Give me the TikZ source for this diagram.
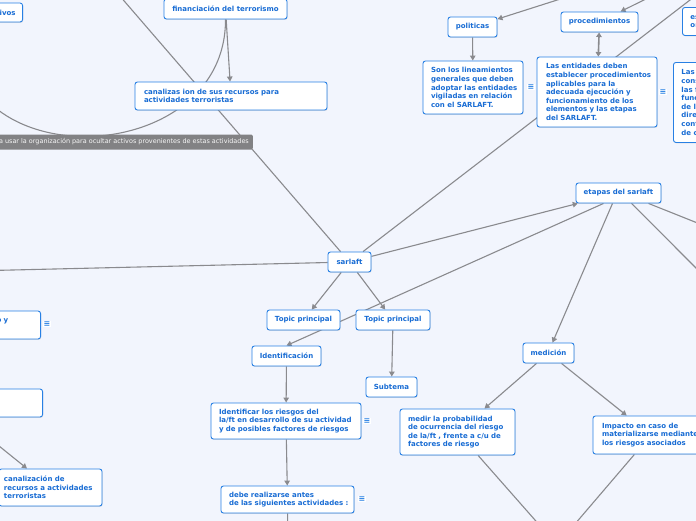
\documentclass[tikz,border=0pt]{standalone}
\usepackage{fontspec}
\setmainfont{DejaVu Sans}
\usetikzlibrary{arrows.meta,shadows}
\definecolor{bgc}{RGB}{242,245,253}
\definecolor{bblue}{RGB}{40,128,228}
\definecolor{tblue}{RGB}{24,108,212}
\definecolor{lgray}{RGB}{138,138,142}
\definecolor{labgray}{RGB}{130,130,132}
\pgfdeclarelayer{bg}
\pgfdeclarelayer{edges}
\pgfsetlayers{bg,edges,main}
\tikzset{
  box/.style={draw=bblue, fill=white, rounded corners=2.5pt, line width=0.9pt,
    text=tblue, font=\fontsize{7}{8.6}\selectfont\bfseries, inner ysep=0pt,
    drop shadow={shadow xshift=0.6pt, shadow yshift=-0.9pt, opacity=0.22}},
  one/.style={box, minimum height=20pt, align=center, inner xsep=0pt},
  multi/.style={box, align=left},
  glabel/.style={fill=labgray, text=white!94!gray, font=\fontsize{6.45}{7}\selectfont,
    rounded corners=1.5pt, minimum height=15pt, inner xsep=4pt, inner ysep=0pt},
  icon/.style={fill=white, text=bblue, font=\fontsize{8}{8}\selectfont\bfseries, inner sep=0.6pt},
  edge/.style={draw=lgray, line width=1.1pt},
  arr/.style={edge, -{Triangle[length=5pt,width=5.5pt]}},
  dbl/.style={edge, line width=1.6pt, {Triangle[length=4.5pt,width=5.5pt]}-{Triangle[length=4.5pt,width=5.5pt]}}
}
\begin{document}
\begin{tikzpicture}[x=1pt, y=-1pt]
\useasboundingbox (0,0) rectangle (696,520);
\begin{pgfonlayer}{bg}
\fill[bgc] (-5,-5) rectangle (701,525);
\end{pgfonlayer}

% nodes
\node[one, minimum width=123pt] (fin) at (225.5,9) {financiación del terrorismo};
\node[multi, text width=174pt, inner xsep=9pt, minimum height=28pt] (canal) at (231,96)
  {\mbox{canalizas ion de sus recursos para}\\\mbox{actividades terroristas}};
\node[glabel, anchor=east] (lab) at (253,142) {a usar la organización para ocultar activos provenientes de estas actividades};
\node[box, anchor=east, minimum height=19pt, text width=40pt, align=right, inner xsep=7pt] (ivos) at (23,12.5) {ivos};
\node[one, minimum width=49pt] (pol) at (472.5,27) {politicas};
\node[one, minimum width=77pt] (proc) at (599.5,22) {procedimientos};
\node[multi, text width=84pt, inner xsep=8pt, minimum height=53pt] (son) at (473,87.5)
  {\mbox{Son los lineamientos}\\\mbox{generales que deben}\\\mbox{adoptar las entidades}\\\mbox{vigiladas en relación}\\\mbox{con el SARLAFT.}};
\node[multi, text width=102pt, inner xsep=9pt, minimum height=70pt] (lasent) at (597,92)
  {\mbox{Las entidades deben}\\\mbox{establecer procedimientos}\\\mbox{aplicables para la}\\\mbox{adecuada ejecución y}\\\mbox{funcionamiento de los}\\\mbox{elementos y las etapas}\\\mbox{del SARLAFT.}};
\node[multi, anchor=north west, text width=60pt, inner xsep=8pt, minimum height=80pt] (lascons) at (673,62)
  {Las\\cons\\las f\\func\\de lo\\direc\\cont\\de c};
\node[multi, anchor=north west, text width=40pt, inner xsep=8pt, minimum height=28pt] (esor) at (682,7) {es\\or};
\node[one, minimum width=43pt] (sarlaft) at (349.5,262) {sarlaft};
\node[one, minimum width=85pt] (etapas) at (618.5,193) {etapas del sarlaft};
\node[one, minimum width=73pt] (tp1) at (303.5,320) {Topic principal};
\node[one, minimum width=74pt] (tp2) at (393,320) {Topic principal};
\node[one, minimum width=51pt] (sub) at (391.5,387) {Subtema};
\node[one, minimum width=69pt] (ident) at (286.5,356) {Identificación};
\node[multi, text width=134pt, inner xsep=8pt, minimum height=36pt] (idfr) at (286,421)
  {\mbox{Identificar los riesgos del}\\\mbox{la/ft en desarrollo de su actividad}\\\mbox{y de posibles factores de riesgos}};
\node[multi, text width=117pt, inner xsep=8pt, minimum height=27pt] (debe) at (287.5,499.5)
  {\mbox{debe realizarse antes}\\\mbox{de las siguientes actividades :}};
\node[one, minimum width=51pt] (med) at (548.5,353) {medición};
\node[multi, text width=99pt, inner xsep=8pt, minimum height=46pt] (medir) at (457.5,432)
  {\mbox{medir la probabilidad}\\\mbox{de ocurrencia del riesgo}\\\mbox{de la/ft , frente a c/u de}\\\mbox{factores de riesgo}};
\node[multi, text width=98pt, inner xsep=9pt, minimum height=38pt] (imp) at (651,435)
  {\mbox{Impacto en caso de}\\\mbox{materializarse mediante}\\\mbox{los riesgos asociados}};
\node[multi, text width=93pt, inner xsep=5pt, minimum height=37pt] (canz) at (50.5,487.5)
  {\mbox{canalización de}\\\mbox{recursos a actividades}\\\mbox{terroristas}};
\node[multi, anchor=east, text width=90pt, inner xsep=8pt, minimum height=28pt] (oy) at (41,325)
  {\hspace*{54pt}o y\\\mbox{}};
\node[box, anchor=east, minimum width=90pt, minimum height=28pt] (blank) at (43,403) {};

\node[icon] (e1) at (531,87) {≡};
\node[icon] (e2) at (663,92) {≡};
\node[icon] (e3) at (367,421) {≡};
\node[icon] (e4) at (362,499) {≡};
\node[icon] (e5) at (47,324) {≡};

% free ends
\coordinate (offA) at (100,-27);
\coordinate (offB) at (716,-20);
\coordinate (offC) at (720,292);
\coordinate (offD) at (730,236);
\coordinate (offE) at (-30,271);
\coordinate (offF) at (557,545);
\coordinate (offG) at (598,-13);
\coordinate (offH) at (668,-12);
\coordinate (offJ) at (-27,425);
\coordinate (offK) at (288,560);
\coordinate (cEnd) at (-40,22);

\begin{pgfonlayer}{edges}
\draw[edge] (sarlaft) -- (offA);
\draw[edge] (sarlaft) -- (offB);
\draw[edge] (sarlaft) -- (offE);
\draw[arr] (sarlaft) -- (etapas);
\draw[arr] (sarlaft) -- (tp1);
\draw[arr] (sarlaft) -- (tp2);
\draw[arr] (tp2) -- (sub);
\draw[arr] ([xshift=-15pt]etapas.south) -- (ident.north);
\draw[arr] ([xshift=-6pt]etapas.south) -- ([xshift=4pt]med.north);
\draw[edge] ([xshift=13pt]etapas.south) -- (offC);
\draw[edge] ([xshift=30pt]etapas.south) -- (offD);
\draw[arr] (ident) -- (idfr);
\draw[arr] (idfr) -- (debe);
\draw[edge] (debe) -- (offK);
\draw[arr] (med) -- (medir);
\draw[arr] (med) -- (imp);
\draw[edge] (medir) -- (offF);
\draw[edge] (imp) -- (offF);
\draw[arr] (fin) -- (canal);
\draw[edge] (fin.south) .. controls (226,170) and (-50,180) .. (cEnd);
\draw[arr] (offG) -- (pol);
\draw[arr] (offH) -- (proc);
\draw[dbl] (proc) -- (lasent);
\draw[arr] (pol) -- (son);
\draw[arr] (offJ) -- (canz);
\end{pgfonlayer}
\end{tikzpicture}
\end{document}
